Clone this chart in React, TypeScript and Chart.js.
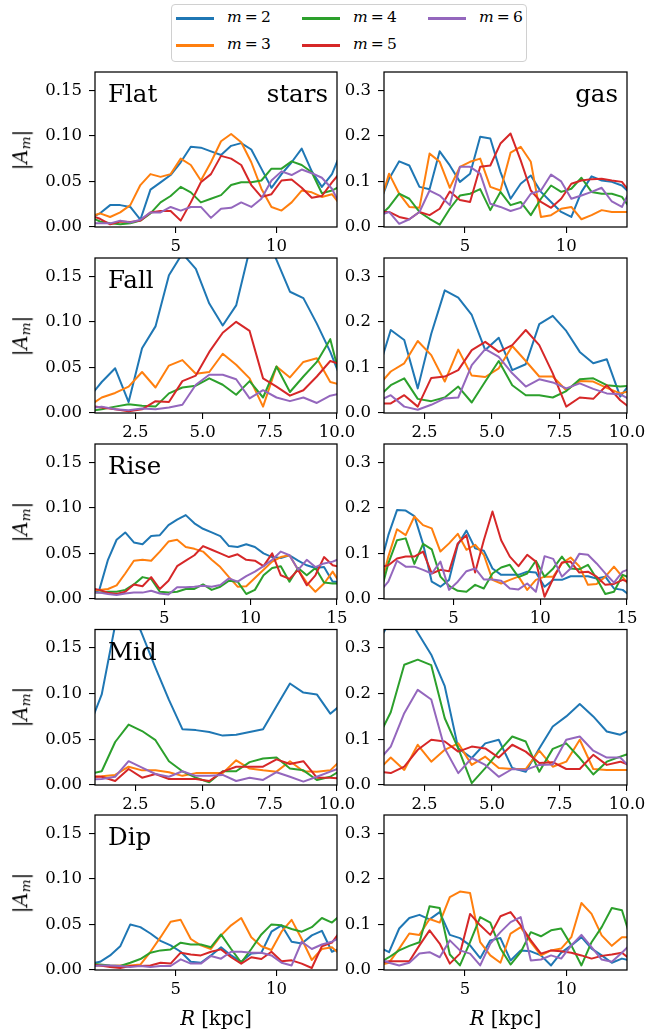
import React, { useEffect, useRef } from "react";
import { Chart, registerables } from "chart.js";

Chart.register(...registerables);

// ---------- radii (kpc) ----------
const R13 = [0.75, 1.25, 1.75, 2.25, 2.75, 3.25, 3.75, 4.25, 4.75, 5.25, 5.75, 6.25, 6.75, 7.25, 7.75, 8.25, 8.75, 9.25, 9.75, 10.25, 10.75, 11.25, 11.75, 12.25, 12.75, 13.25];
const R10 = [0.75, 1.25, 1.75, 2.25, 2.75, 3.25, 3.75, 4.25, 4.75, 5.25, 5.75, 6.25, 6.75, 7.25, 7.75, 8.25, 8.75, 9.25, 9.75, 10.25];
const R15 = [0.75, 1.25, 1.75, 2.25, 2.75, 3.25, 3.75, 4.25, 4.75, 5.25, 5.75, 6.25, 6.75, 7.25, 7.75, 8.25, 8.75, 9.25, 9.75, 10.25, 10.75, 11.25, 11.75, 12.25, 12.75, 13.25, 13.75, 14.25, 14.75, 15.25];

// ---------- Flat ----------
const flatStars2 = [0.010, 0.015, 0.024, 0.024, 0.022, 0.008, 0.041, 0.049, 0.057, 0.071, 0.088, 0.087, 0.083, 0.079, 0.089, 0.092, 0.085, 0.064, 0.043, 0.058, 0.071, 0.086, 0.061, 0.044, 0.058, 0.085];
const flatStars3 = [0.011, 0.015, 0.011, 0.016, 0.024, 0.046, 0.058, 0.055, 0.058, 0.075, 0.068, 0.051, 0.071, 0.094, 0.102, 0.093, 0.071, 0.042, 0.022, 0.018, 0.027, 0.040, 0.038, 0.033, 0.036, 0.022];
const flatStars4 = [0.011, 0.006, 0.004, 0.003, 0.004, 0.007, 0.015, 0.027, 0.034, 0.044, 0.038, 0.027, 0.031, 0.035, 0.046, 0.049, 0.049, 0.051, 0.064, 0.064, 0.072, 0.068, 0.060, 0.037, 0.040, 0.046];
const flatStars5 = [0.013, 0.009, 0.003, 0.006, 0.0055, 0.007, 0.016, 0.0175, 0.0175, 0.007, 0.027, 0.049, 0.058, 0.078, 0.075, 0.068, 0.046, 0.033, 0.036, 0.051, 0.052, 0.043, 0.032, 0.034, 0.049, 0.062];
const flatStars6 = [0.004, 0.004, 0.004, 0.007, 0.005, 0.008, 0.016, 0.016, 0.022, 0.018, 0.022, 0.022, 0.010, 0.020, 0.021, 0.027, 0.022, 0.031, 0.051, 0.061, 0.057, 0.063, 0.059, 0.054, 0.042, 0.020];

const flatGas2 = [0.048, 0.106, 0.144, 0.135, 0.088, 0.083, 0.166, 0.135, 0.099, 0.117, 0.198, 0.194, 0.121, 0.062, 0.095, 0.113, 0.077, 0.055, 0.033, 0.022, 0.077, 0.111, 0.102, 0.099, 0.091, 0.070];
const flatGas3 = [0.043, 0.117, 0.073, 0.044, 0.042, 0.161, 0.143, 0.086, 0.132, 0.143, 0.150, 0.088, 0.080, 0.163, 0.176, 0.143, 0.022, 0.026, 0.040, 0.044, 0.017, 0.026, 0.037, 0.033, 0.033, 0.033];
const flatGas4 = [0.022, 0.044, 0.073, 0.062, 0.033, 0.018, 0.005, 0.040, 0.069, 0.073, 0.083, 0.037, 0.077, 0.048, 0.055, 0.026, 0.062, 0.091, 0.077, 0.084, 0.108, 0.077, 0.073, 0.073, 0.066, 0.035];
const flatGas5 = [0.033, 0.033, 0.022, 0.017, 0.033, 0.026, 0.040, 0.078, 0.059, 0.055, 0.132, 0.135, 0.183, 0.205, 0.146, 0.080, 0.055, 0.042, 0.062, 0.095, 0.102, 0.105, 0.106, 0.102, 0.099, 0.070];
const flatGas6 = [0.025, 0.033, 0.007, 0.017, 0.033, 0.080, 0.069, 0.048, 0.132, 0.132, 0.117, 0.051, 0.044, 0.035, 0.042, 0.073, 0.080, 0.115, 0.100, 0.062, 0.069, 0.077, 0.086, 0.056, 0.044, 0.090];

// ---------- Fall ----------
const fallStars2 = [0.016, 0.034, 0.049, 0.012, 0.071, 0.095, 0.151, 0.175, 0.158, 0.120, 0.096, 0.118, 0.179, 0.200, 0.168, 0.133, 0.126, 0.098, 0.067, 0.030];
const fallStars3 = [0.007, 0.017, 0.022, 0.029, 0.045, 0.028, 0.052, 0.058, 0.043, 0.045, 0.065, 0.053, 0.038, 0.007, 0.051, 0.039, 0.056, 0.060, 0.034, 0.030];
const fallStars4 = [0.002, 0.004, 0.007, 0.0095, 0.008, 0.007, 0.0215, 0.028, 0.030, 0.038, 0.031, 0.020, 0.035, 0.017, 0.051, 0.023, 0.040, 0.056, 0.081, 0.024];
const fallStars5 = [0.008, 0.006, 0.004, 0.002, 0.004, 0.013, 0.012, 0.035, 0.041, 0.067, 0.088, 0.100, 0.090, 0.038, 0.029, 0.019, 0.025, 0.040, 0.057, 0.052];
const fallStars6 = [0.005, 0.007, 0.004, 0.003, 0.005, 0.004, 0.006, 0.009, 0.031, 0.042, 0.042, 0.037, 0.016, 0.025, 0.017, 0.013, 0.017, 0.011, 0.019, 0.022];

const fallGas2 = [0.086, 0.182, 0.160, 0.054, 0.174, 0.269, 0.253, 0.215, 0.138, 0.165, 0.094, 0.107, 0.195, 0.213, 0.180, 0.134, 0.109, 0.118, 0.036, 0.075];
const fallGas3 = [0.057, 0.091, 0.109, 0.158, 0.127, 0.069, 0.139, 0.082, 0.079, 0.098, 0.147, 0.114, 0.080, 0.080, 0.050, 0.070, 0.069, 0.055, 0.043, 0.050];
const fallGas4 = [0.033, 0.061, 0.076, 0.031, 0.026, 0.034, 0.058, 0.023, 0.069, 0.114, 0.061, 0.039, 0.039, 0.034, 0.048, 0.074, 0.076, 0.061, 0.058, 0.060];
const fallGas5 = [0.021, 0.021, 0.039, 0.014, 0.077, 0.080, 0.094, 0.138, 0.156, 0.134, 0.149, 0.182, 0.149, 0.087, 0.014, 0.034, 0.031, 0.061, 0.028, 0.005];
const fallGas6 = [0.025, 0.039, 0.014, 0.007, 0.018, 0.032, 0.034, 0.105, 0.140, 0.123, 0.087, 0.058, 0.074, 0.067, 0.054, 0.065, 0.053, 0.043, 0.041, 0.025];

// ---------- Rise ----------
const riseStars2 = [0.005, 0.010, 0.043, 0.065, 0.073, 0.062, 0.060, 0.069, 0.070, 0.081, 0.087, 0.092, 0.083, 0.077, 0.073, 0.069, 0.058, 0.057, 0.060, 0.057, 0.050, 0.046, 0.045, 0.048, 0.042, 0.037, 0.034, 0.035, 0.019, 0.019];
const riseStars3 = [0.010, 0.010, 0.011, 0.015, 0.028, 0.042, 0.043, 0.042, 0.052, 0.063, 0.065, 0.057, 0.055, 0.052, 0.043, 0.035, 0.024, 0.0135, 0.014, 0.023, 0.032, 0.041, 0.046, 0.048, 0.032, 0.018, 0.008, 0.017, 0.030, 0.015];
const riseStars4 = [0.007, 0.007, 0.008, 0.008, 0.010, 0.016, 0.024, 0.022, 0.008, 0.007, 0.008, 0.011, 0.011, 0.016, 0.010, 0.0135, 0.020, 0.019, 0.0055, 0.010, 0.026, 0.034, 0.036, 0.019, 0.034, 0.026, 0.034, 0.018, 0.017, 0.017];
const riseStars5 = [0.012, 0.010, 0.007, 0.0055, 0.008, 0.016, 0.014, 0.024, 0.011, 0.020, 0.036, 0.042, 0.048, 0.058, 0.054, 0.050, 0.046, 0.049, 0.043, 0.042, 0.036, 0.050, 0.026, 0.022, 0.032, 0.015, 0.026, 0.046, 0.037, 0.035];
const riseStars6 = [0.007, 0.007, 0.0055, 0.0044, 0.006, 0.007, 0.007, 0.009, 0.006, 0.005, 0.013, 0.0128, 0.0135, 0.0146, 0.0135, 0.0154, 0.0226, 0.019, 0.025, 0.030, 0.036, 0.043, 0.052, 0.048, 0.032, 0.043, 0.035, 0.039, 0.041, 0.045];

const riseGas2 = [0.068, 0.140, 0.195, 0.194, 0.182, 0.121, 0.038, 0.027, 0.042, 0.119, 0.150, 0.111, 0.106, 0.067, 0.053, 0.053, 0.053, 0.060, 0.058, 0.027, 0.042, 0.042, 0.050, 0.050, 0.050, 0.045, 0.049, 0.023, 0.020, 0.005];
const riseGas3 = [0.019, 0.093, 0.153, 0.140, 0.181, 0.162, 0.155, 0.104, 0.122, 0.143, 0.108, 0.119, 0.097, 0.042, 0.034, 0.042, 0.049, 0.020, 0.042, 0.049, 0.049, 0.078, 0.091, 0.072, 0.031, 0.033, 0.049, 0.071, 0.048, 0.025];
const riseGas4 = [0.006, 0.078, 0.129, 0.133, 0.077, 0.121, 0.109, 0.049, 0.029, 0.018, 0.016, 0.031, 0.023, 0.056, 0.069, 0.075, 0.048, 0.056, 0.084, 0.049, 0.067, 0.093, 0.067, 0.065, 0.075, 0.045, 0.011, 0.016, 0.053, 0.045];
const riseGas5 = [0.070, 0.074, 0.089, 0.093, 0.093, 0.104, 0.056, 0.064, 0.061, 0.122, 0.140, 0.058, 0.129, 0.192, 0.129, 0.093, 0.072, 0.097, 0.082, 0.005, 0.045, 0.080, 0.082, 0.058, 0.060, 0.049, 0.031, 0.033, 0.042, 0.035];
const riseGas6 = [0.016, 0.038, 0.084, 0.071, 0.071, 0.064, 0.056, 0.082, 0.020, 0.038, 0.061, 0.067, 0.043, 0.043, 0.040, 0.023, 0.021, 0.034, 0.016, 0.094, 0.088, 0.049, 0.067, 0.099, 0.097, 0.078, 0.056, 0.036, 0.060, 0.067];

// ---------- Mid ----------
const midStars2 = [0.061, 0.099, 0.175, 0.200, 0.165, 0.128, 0.093, 0.061, 0.060, 0.058, 0.054, 0.055, 0.058, 0.061, 0.086, 0.111, 0.101, 0.099, 0.078, 0.090];
const midStars3 = [0.009, 0.0095, 0.011, 0.020, 0.016, 0.016, 0.014, 0.010, 0.013, 0.013, 0.013, 0.027, 0.018, 0.016, 0.0146, 0.026, 0.015, 0.0146, 0.016, 0.030];
const midStars4 = [0.012, 0.015, 0.047, 0.066, 0.059, 0.049, 0.026, 0.015, 0.008, 0.003, 0.015, 0.015, 0.025, 0.029, 0.030, 0.018, 0.016, 0.0055, 0.009, 0.018];
const midStars5 = [0.009, 0.009, 0.0044, 0.0175, 0.008, 0.012, 0.0066, 0.0066, 0.0066, 0.0044, 0.0146, 0.020, 0.020, 0.020, 0.028, 0.023, 0.026, 0.008, 0.008, 0.007];
const midStars6 = [0.006, 0.0066, 0.009, 0.026, 0.019, 0.012, 0.009, 0.015, 0.010, 0.010, 0.011, 0.0044, 0.008, 0.0055, 0.014, 0.009, 0.0037, 0.009, 0.0146, 0.020];

const midGas2 = [0.310, 0.360, 0.380, 0.333, 0.285, 0.216, 0.080, 0.059, 0.091, 0.099, 0.037, 0.029, 0.080, 0.128, 0.150, 0.177, 0.150, 0.117, 0.110, 0.125];
const midGas3 = [0.030, 0.060, 0.033, 0.088, 0.051, 0.077, 0.091, 0.044, 0.062, 0.037, 0.035, 0.035, 0.075, 0.040, 0.051, 0.099, 0.035, 0.033, 0.033, 0.033];
const midGas4 = [0.100, 0.159, 0.263, 0.274, 0.262, 0.146, 0.080, 0.004, 0.037, 0.073, 0.106, 0.095, 0.029, 0.079, 0.091, 0.059, 0.023, 0.051, 0.062, 0.072];
const midGas5 = [0.030, 0.026, 0.040, 0.077, 0.099, 0.095, 0.073, 0.084, 0.080, 0.060, 0.088, 0.073, 0.048, 0.050, 0.035, 0.035, 0.066, 0.044, 0.051, 0.040];
const midGas6 = [0.050, 0.084, 0.157, 0.208, 0.187, 0.080, 0.026, 0.059, 0.044, 0.018, 0.035, 0.033, 0.044, 0.045, 0.099, 0.106, 0.075, 0.060, 0.060, 0.030];

// ---------- Dip ----------
const dipStars2 = [0.007, 0.009, 0.016, 0.026, 0.050, 0.047, 0.040, 0.032, 0.027, 0.020, 0.009, 0.008, 0.016, 0.025, 0.016, 0.009, 0.018, 0.019, 0.042, 0.049, 0.031, 0.029, 0.038, 0.043, 0.020, 0.025];
const dipStars3 = [0.005, 0.005, 0.0044, 0.005, 0.005, 0.006, 0.020, 0.036, 0.053, 0.055, 0.034, 0.027, 0.023, 0.038, 0.049, 0.057, 0.036, 0.026, 0.022, 0.042, 0.055, 0.034, 0.011, 0.023, 0.025, 0.015];
const dipStars4 = [0.007, 0.006, 0.005, 0.0044, 0.008, 0.012, 0.019, 0.0215, 0.0226, 0.030, 0.028, 0.028, 0.025, 0.039, 0.023, 0.008, 0.023, 0.039, 0.050, 0.049, 0.045, 0.042, 0.047, 0.057, 0.052, 0.062];
const dipStars5 = [0.006, 0.005, 0.0033, 0.0022, 0.0044, 0.0044, 0.005, 0.008, 0.007, 0.019, 0.017, 0.016, 0.020, 0.0226, 0.014, 0.007, 0.014, 0.012, 0.020, 0.0095, 0.0106, 0.007, 0.0022, 0.026, 0.030, 0.045];
const dipStars6 = [0.004, 0.005, 0.005, 0.0044, 0.0033, 0.0044, 0.0033, 0.0044, 0.0044, 0.0117, 0.007, 0.007, 0.0153, 0.0124, 0.020, 0.020, 0.019, 0.019, 0.016, 0.008, 0.005, 0.031, 0.023, 0.028, 0.031, 0.037];

const dipGas2 = [0.050, 0.039, 0.091, 0.114, 0.121, 0.111, 0.127, 0.077, 0.070, 0.054, 0.026, 0.065, 0.070, 0.021, 0.043, 0.041, 0.032, 0.010, 0.038, 0.054, 0.072, 0.047, 0.032, 0.016, 0.025, 0.020];
const dipGas3 = [0.010, 0.016, 0.047, 0.080, 0.077, 0.112, 0.104, 0.160, 0.172, 0.169, 0.061, 0.032, 0.016, 0.080, 0.094, 0.061, 0.032, 0.043, 0.047, 0.072, 0.147, 0.123, 0.076, 0.053, 0.072, 0.072];
const dipGas4 = [0.015, 0.028, 0.043, 0.053, 0.061, 0.140, 0.136, 0.034, 0.010, 0.061, 0.116, 0.104, 0.047, 0.012, 0.039, 0.083, 0.074, 0.087, 0.091, 0.054, 0.010, 0.061, 0.094, 0.136, 0.131, 0.060];
const dipGas5 = [0.015, 0.019, 0.019, 0.019, 0.054, 0.087, 0.058, 0.014, 0.036, 0.123, 0.098, 0.077, 0.118, 0.127, 0.098, 0.065, 0.036, 0.043, 0.041, 0.038, 0.032, 0.025, 0.031, 0.034, 0.038, 0.020];
const dipGas6 = [0.025, 0.016, 0.010, 0.016, 0.036, 0.039, 0.028, 0.065, 0.043, 0.036, 0.010, 0.058, 0.083, 0.105, 0.116, 0.021, 0.023, 0.032, 0.025, 0.054, 0.077, 0.050, 0.023, 0.018, 0.038, 0.060];

// ---------- ticks / labels ----------
const MODES = [2, 3, 4, 5, 6];
const COLORS = ["#1f77b4", "#ff7f0e", "#2ca02c", "#d62728", "#9467bd"];
const ROW_NAMES = ["Flat", "Fall", "Rise", "Mid", "Dip"];
const X_TICKS_13 = [5, 10];
const X_TICKS_10 = [2.5, 5.0, 7.5, 10.0];
const X_TICKS_15 = [5, 10, 15];
const Y_TICKS_STARS = [0.0, 0.05, 0.1, 0.15];
const Y_TICKS_GAS = [0.0, 0.1, 0.2, 0.3];
const Y_MAX_STARS = 0.17;
const Y_MAX_GAS = 0.34;

const FONT = '"DejaVu Serif", "Liberation Serif", serif';

type Row = {
  name: string;
  r: number[];
  xMin: number;
  xMax: number;
  xTicks: number[];
  xDecimals: number;
  stars: number[][];
  gas: number[][];
};

const ROWS: Row[] = [
  { name: ROW_NAMES[0], r: R13, xMin: 1, xMax: 13, xTicks: X_TICKS_13, xDecimals: 0, stars: [flatStars2, flatStars3, flatStars4, flatStars5, flatStars6], gas: [flatGas2, flatGas3, flatGas4, flatGas5, flatGas6] },
  { name: ROW_NAMES[1], r: R10, xMin: 1, xMax: 10, xTicks: X_TICKS_10, xDecimals: 1, stars: [fallStars2, fallStars3, fallStars4, fallStars5, fallStars6], gas: [fallGas2, fallGas3, fallGas4, fallGas5, fallGas6] },
  { name: ROW_NAMES[2], r: R15, xMin: 1, xMax: 15, xTicks: X_TICKS_15, xDecimals: 0, stars: [riseStars2, riseStars3, riseStars4, riseStars5, riseStars6], gas: [riseGas2, riseGas3, riseGas4, riseGas5, riseGas6] },
  { name: ROW_NAMES[3], r: R10, xMin: 1, xMax: 10, xTicks: X_TICKS_10, xDecimals: 1, stars: [midStars2, midStars3, midStars4, midStars5, midStars6], gas: [midGas2, midGas3, midGas4, midGas5, midGas6] },
  { name: ROW_NAMES[4], r: R13, xMin: 1, xMax: 13, xTicks: X_TICKS_13, xDecimals: 0, stars: [dipStars2, dipStars3, dipStars4, dipStars5, dipStars6], gas: [dipGas2, dipGas3, dipGas4, dipGas5, dipGas6] },
];

// ---------- layout ----------
const ROW_TOPS = [72, 258, 444, 629.5, 815];
const PANEL_H = 155;
const COLS = [
  { canvasLeft: 0, canvasW: 372, yW: 95, padRight: 35 },
  { canvasLeft: 332, canvasW: 316, yW: 52, padRight: 21 },
];
const TICK_FONT = 16.5;
const LABEL_FONT = 24.5;
const AXIS_FONT = 19.6;

const framePlugin = {
  id: "frame",
  afterDatasetsDraw(chart: any, _args: any, opts: any) {
    const { ctx, chartArea: a } = chart;
    ctx.save();
    ctx.strokeStyle = "#000";
    ctx.lineWidth = 1.25;
    ctx.strokeRect(a.left, a.top, a.right - a.left, a.bottom - a.top);
    ctx.fillStyle = "#000";
    ctx.font = `${LABEL_FONT}px ${FONT}`;
    ctx.textBaseline = "alphabetic";
    if (opts.left) {
      ctx.textAlign = "left";
      ctx.fillText(opts.left, a.left + 13, a.top + 30);
    }
    if (opts.right) {
      ctx.textAlign = "right";
      ctx.fillText(opts.right, a.right - 9, a.top + 30);
    }
    ctx.restore();
  },
};

function Panel({ row, rowIdx, col }: { row: Row; rowIdx: number; col: number }) {
  const ref = useRef<HTMLCanvasElement | null>(null);
  const geo = COLS[col];
  const top = ROW_TOPS[rowIdx];
  const canvasTop = Math.floor(top) - 12;
  const padTop = top - canvasTop;
  const last = rowIdx === ROWS.length - 1;
  const xAxisH = last ? 64 : 32;
  const canvasH = Math.ceil(padTop + PANEL_H + xAxisH);
  const isGas = col === 1;
  const series = isGas ? row.gas : row.stars;
  const yTicks = isGas ? Y_TICKS_GAS : Y_TICKS_STARS;
  const yMax = isGas ? Y_MAX_GAS : Y_MAX_STARS;
  const yDec = isGas ? 1 : 2;

  useEffect(() => {
    if (!ref.current) return;
    const datasets = series.map((ys, i) => ({
      label: `m = ${MODES[i]}`,
      data: row.r.map((x, j) => ({ x, y: ys[j] })),
      borderColor: COLORS[i],
      backgroundColor: COLORS[i],
      borderWidth: 2,
      pointRadius: 0,
      pointHoverRadius: 0,
      tension: 0,
      fill: false,
      borderJoinStyle: "round" as const,
      order: 4 - i,
      clip: 0,
    }));
    let rightLabel = "";
    if (rowIdx === 0) rightLabel = isGas ? "gas" : "stars";
    const chart = new Chart(ref.current, {
      type: "line",
      data: { datasets },
      options: {
        responsive: false,
        animation: false,
        events: [],
        layout: { padding: { left: 0, right: geo.padRight, top: padTop, bottom: 0 } },
        scales: {
          x: {
            type: "linear",
            min: row.xMin,
            max: row.xMax,
            afterBuildTicks: (s: any) => {
              s.ticks = row.xTicks.map((v) => ({ value: v }));
            },
            afterFit: (s: any) => {
              s.height = xAxisH;
              s.paddingLeft = 0;
              s.paddingRight = 0;
            },
            border: { display: false },
            grid: { drawOnChartArea: false, drawTicks: true, tickLength: 6, color: "#000", lineWidth: 1.1 },
            ticks: {
              autoSkip: false,
              maxRotation: 0,
              minRotation: 0,
              padding: 4,
              color: "#000",
              font: { family: FONT, size: TICK_FONT },
              callback: (v: any) => Number(v).toFixed(row.xDecimals),
            },
          },
          y: {
            type: "linear",
            min: 0,
            max: yMax,
            afterBuildTicks: (s: any) => {
              s.ticks = yTicks.map((v) => ({ value: v }));
            },
            afterFit: (s: any) => {
              s.width = geo.yW;
              s.paddingTop = 0;
              s.paddingBottom = 0;
            },
            border: { display: false },
            grid: { drawOnChartArea: false, drawTicks: true, tickLength: 6, color: "#000", lineWidth: 1.1 },
            ticks: {
              autoSkip: false,
              padding: 7,
              color: "#000",
              font: { family: FONT, size: TICK_FONT },
              callback: (v: any) => Number(v).toFixed(yDec),
            },
          },
        },
        plugins: {
          legend: { display: false },
          tooltip: { enabled: false },
          frame: { left: col === 0 ? row.name : "", right: rightLabel },
        } as any,
      },
      plugins: [framePlugin],
    } as any);
    return () => chart.destroy();
  }, []);

  return (
    <canvas
      ref={ref}
      width={geo.canvasW}
      height={canvasH}
      style={{ position: "absolute", left: geo.canvasLeft, top: canvasTop, width: geo.canvasW, height: canvasH }}
    />
  );
}

function Legend() {
  return (
    <div
      style={{
        position: "absolute",
        left: 171,
        top: 4,
        width: 356,
        height: 58,
        border: "1px solid #d0d0d0",
        borderRadius: 4,
        boxSizing: "border-box",
        background: "#fff",
      }}
    >
      {MODES.map((m, i) => {
        const c = Math.floor(i / 2);
        const r = i % 2;
        const lx = 4 + c * 126;
        const ly = 12 + r * 27;
        return (
          <React.Fragment key={m}>
            <div style={{ position: "absolute", left: lx, top: ly, width: 38, height: 2.5, background: COLORS[i] }} />
            <div
              style={{
                position: "absolute",
                left: lx + 51,
                top: ly - 11,
                fontFamily: FONT,
                fontSize: 15.5,
                lineHeight: "22px",
                whiteSpace: "nowrap",
                color: "#000",
              }}
            >
              <i>m</i>{"\u2009=\u2009"}{m}
            </div>
          </React.Fragment>
        );
      })}
    </div>
  );
}

export default function App() {
  return (
    <div style={{ position: "absolute", left: 0, top: 0, width: 648, height: 1036, overflow: "hidden", background: "#fff" }}>
      <Legend />
      {ROWS.map((row, ri) => (
        <React.Fragment key={row.name}>
          <Panel row={row} rowIdx={ri} col={0} />
          <Panel row={row} rowIdx={ri} col={1} />
          <div
            style={{
              position: "absolute",
              left: 21,
              top: ROW_TOPS[ri] + PANEL_H / 2,
              transform: "translate(-50%, -50%) rotate(-90deg)",
              fontFamily: FONT,
              fontSize: AXIS_FONT,
              lineHeight: 1,
              whiteSpace: "nowrap",
              color: "#000",
            }}
          >
            |<i>A</i>
            <i style={{ fontSize: "0.7em", position: "relative", top: "0.25em" }}>m</i>|
          </div>
        </React.Fragment>
      ))}
      {[216, 505.5].map((cx) => (
        <div
          key={cx}
          style={{
            position: "absolute",
            left: cx,
            top: 1019,
            transform: "translate(-50%, -50%)",
            fontFamily: FONT,
            fontSize: AXIS_FONT,
            lineHeight: 1,
            whiteSpace: "nowrap",
            color: "#000",
          }}
        >
          <i>R</i> [kpc]
        </div>
      ))}
    </div>
  );
}
